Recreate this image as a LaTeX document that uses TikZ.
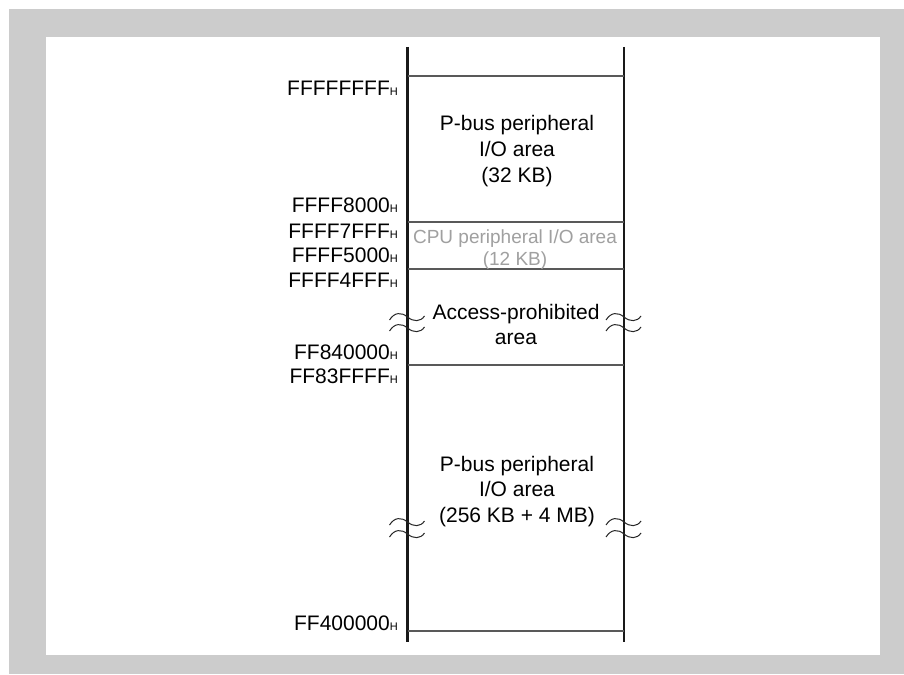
\documentclass[tikz,border=0pt]{standalone}
\usepackage{fontspec}
\setmainfont{Liberation Sans}
\definecolor{framegray}{HTML}{CCCCCC}
\definecolor{cpugray}{HTML}{A0A0A0}
\newcommand\hsub{{\fontsize{11pt}{11pt}\selectfont H}}
\tikzset{
  addr/.style={anchor=base east,inner sep=0pt,font=\fontsize{21pt}{25pt}\selectfont},
  areatext/.style={anchor=base,inner sep=0pt,font=\fontsize{21pt}{25pt}\selectfont},
  cputext/.style={anchor=base,inner sep=0pt,font=\fontsize{19pt}{22pt}\selectfont,text=cpugray},
  rail/.style={line width=2.4pt,black!90},
  sepline/.style={line width=1.1pt,black!65},
  squig/.style={line width=1pt,black!85},
  wave/.pic={\draw[squig] (-18,3) .. controls (-13,-5) and (-6,-5) .. (0,0) .. controls (6,5) and (13,5) .. (17,-1);}
}
\begin{document}
\begin{tikzpicture}[x=1pt,y=-1pt]
\useasboundingbox (0,0) rectangle (904,674);
\fill[framegray] (9,9) rectangle (904,674);
\fill[white] (46,37) rectangle (880,655);

% rails
\coordinate (lt) at (407.5,47);
\coordinate (lb) at (407.5,642);
\coordinate (rt) at (624,47);
\coordinate (rb) at (624,642);
\draw[rail] (lt) -- (lb);
\draw[rail] (rt) -- (rb);

% separators
\foreach \yy/\nm in {76/a,222/b,269/c,365/d,631/e}{
  \coordinate (l\nm) at (407.5,\yy);
  \coordinate (r\nm) at (624,\yy);
  \draw[sepline] (l\nm) -- (r\nm);
}

% squiggles
\pic at (407.5,317) {wave};
\pic at (407.5,328) {wave};
\pic at (624,317) {wave};
\pic at (624,328) {wave};
\pic at (407.5,522) {wave};
\pic at (407.5,534) {wave};
\pic at (624,522) {wave};
\pic at (624,534) {wave};

% addresses
\node[addr] (a1) at (398,96) {FFFFFFFF\hsub};
\node[addr] (a2) at (398,212) {FFFF8000\hsub};
\node[addr] (a3) at (398,238) {FFFF7FFF\hsub};
\node[addr] (a4) at (398,262) {FFFF5000\hsub};
\node[addr] (a5) at (398,287) {FFFF4FFF\hsub};
\node[addr] (a6) at (398,359) {FF840000\hsub};
\node[addr] (a7) at (398,383) {FF83FFFF\hsub};
\node[addr] (a8) at (398,630) {FF400000\hsub};

% area texts
\node[areatext] (t1) at (517,131) {P-bus peripheral};
\node[areatext] (t2) at (517,156) {I/O area};
\node[areatext] (t3) at (517,182) {(32 KB)};
\node[cputext] (c1) at (515,243) {CPU peripheral I/O area};
\node[cputext] (c2) at (515,265) {(12 KB)};
\node[areatext] (p1) at (516,319) {Access-prohibited};
\node[areatext] (p2) at (516,344) {area};
\node[areatext] (b1) at (517,471) {P-bus peripheral};
\node[areatext] (b2) at (517,496) {I/O area};
\node[areatext] (b3) at (517,522) {(256 KB + 4 MB)};
\end{tikzpicture}
\end{document}
